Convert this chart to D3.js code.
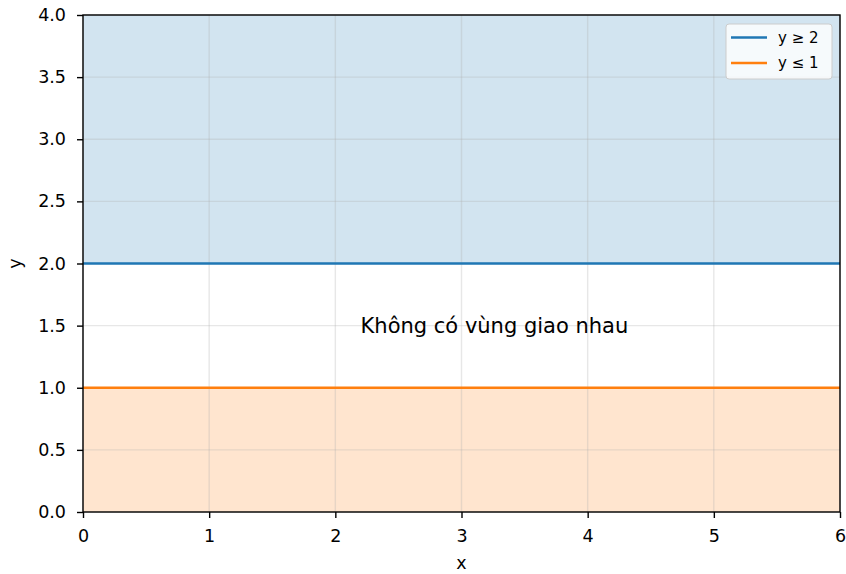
<!DOCTYPE html>
<html><head><meta charset="utf-8">
<script src="https://cdn.jsdelivr.net/npm/d3@7"></script>
<style>body{margin:0;background:#fff;} text{font-family:"DejaVu Sans",sans-serif;}</style>
</head><body>
<svg id="c" width="846" height="574"></svg>
<script>
const xDomain = [0, 6];
const yDomain = [0, 4];
const xTicks = [0, 1, 2, 3, 4, 5, 6];
const yTicks = [0, 0.5, 1, 1.5, 2, 2.5, 3, 3.5, 4];
const seriesNames = ["y ≥ 2", "y ≤ 1"];
const boundaryValues = [2, 1];
const regionLimits = [4, 0];
const seriesColors = ["#1f77b4", "#ff7f0e"];
const annotation = "Không có vùng giao nhau";
const annotationPos = [2.2, 1.5];

const svg = d3.select("#c");
const L = 83, R = 840, T = 15, B = 512;
const x = d3.scaleLinear().domain(xDomain).range([L, R]);
const y = d3.scaleLinear().domain(yDomain).range([B, T]);

// fills
boundaryValues.forEach((v, i) => {
  const y0 = Math.min(y(v), y(regionLimits[i])), y1 = Math.max(y(v), y(regionLimits[i]));
  svg.append("rect").attr("x", x(xDomain[0])).attr("width", x(xDomain[1]) - x(xDomain[0]))
    .attr("y", y0).attr("height", y1 - y0).attr("fill", seriesColors[i]).attr("fill-opacity", 0.2);
});

// grid
const g = svg.append("g");
xTicks.forEach(t => g.append("line").attr("x1", x(t)).attr("x2", x(t)).attr("y1", T).attr("y2", B)
  .attr("stroke", "#b0b0b0").attr("stroke-opacity", 0.3).attr("stroke-width", 1.4));
yTicks.forEach(t => g.append("line").attr("y1", y(t)).attr("y2", y(t)).attr("x1", L).attr("x2", R)
  .attr("stroke", "#b0b0b0").attr("stroke-opacity", 0.3).attr("stroke-width", 1.4));

// lines
boundaryValues.forEach((v, i) => {
  svg.append("line").attr("x1", x(xDomain[0])).attr("x2", x(xDomain[1])).attr("y1", y(v)).attr("y2", y(v))
    .attr("stroke", seriesColors[i]).attr("stroke-width", 2.6);
});

// annotation
svg.append("text").attr("x", x(annotationPos[0])).attr("y", y(annotationPos[1]))
  .attr("text-anchor", "start").attr("dominant-baseline", "central").attr("font-size", 21)
  .attr("fill", "#000").text(annotation);

// axes
const xAxis = d3.axisBottom(x).tickValues(xTicks).tickFormat(d3.format("d")).tickSize(6).tickPadding(12);
const yAxis = d3.axisLeft(y).tickValues(yTicks).tickFormat(d3.format(".1f")).tickSize(6).tickPadding(11);
const gx = svg.append("g").attr("transform", `translate(0,${B})`).call(xAxis);
const gy = svg.append("g").attr("transform", `translate(${L},0)`).call(yAxis);
[gx, gy].forEach(a => {
  a.select(".domain").remove();
  a.selectAll(".tick line").attr("stroke", "#000").attr("stroke-width", 1.4);
  a.selectAll(".tick text").attr("font-size", 17.5).attr("fill", "#000").attr("font-family", "DejaVu Sans");
});
svg.append("rect").attr("x", L).attr("y", T).attr("width", R - L).attr("height", B - T)
  .attr("fill", "none").attr("stroke", "#000").attr("stroke-width", 1.4);

svg.append("text").attr("x", (L + R) / 2).attr("y", 569).attr("text-anchor", "middle")
  .attr("font-size", 17.5).text("x");
svg.append("text").attr("transform", `translate(21,${(T + B) / 2}) rotate(-90)`).attr("text-anchor", "middle")
  .attr("font-size", 17.5).text("y");

// legend
const lg = svg.append("g").attr("transform", "translate(726,24)");
lg.append("rect").attr("width", 106).attr("height", 55).attr("rx", 3)
  .attr("fill", "#fff").attr("fill-opacity", 0.8).attr("stroke", "#ccc").attr("stroke-width", 1);
seriesNames.forEach((n, i) => {
  const yy = 13.5 + i * 25.5;
  lg.append("line").attr("x1", 5).attr("x2", 41).attr("y1", yy).attr("y2", yy)
    .attr("stroke", seriesColors[i]).attr("stroke-width", 2.6);
  lg.append("text").attr("x", 52).attr("y", yy).attr("dominant-baseline", "central")
    .attr("font-size", 15).text(n);
});
</script>
</body></html>
